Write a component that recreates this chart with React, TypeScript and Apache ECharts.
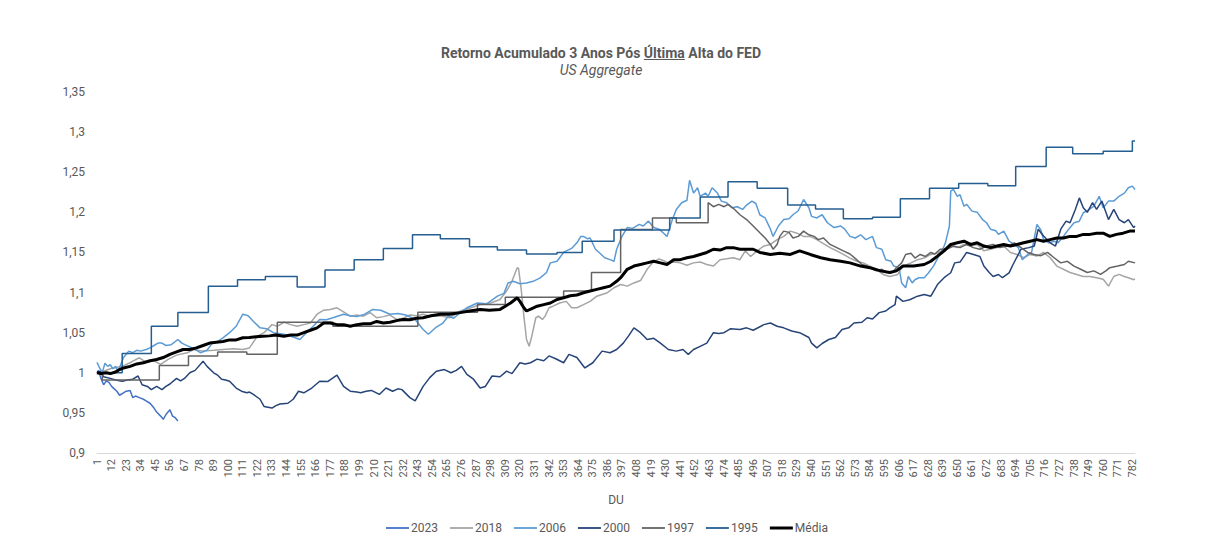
import React, { useEffect, useRef } from "react";
import * as echarts from "echarts";

const days: string[] = Array.from({ length: 784 }, (_, i) => String(i + 1));
const yTicks = { min: 0.9, max: 1.35, step: 0.05 };

const s2023: [number, number][] = [
  [1, 1.0], [2, 1.003], [4, 0.993], [6, 0.985], [8, 0.99], [10, 0.988], [12, 0.983], [14, 0.98], [16, 0.977],
  [18, 0.972], [21, 0.975], [23, 0.977], [26, 0.978], [28, 0.969], [30, 0.971], [33, 0.969], [36, 0.967],
  [38, 0.965], [41, 0.962], [44, 0.956], [46, 0.951], [49, 0.946], [51, 0.942], [53, 0.948], [56, 0.954],
  [58, 0.946], [60, 0.944], [62, 0.94],
];

const s2018: [number, number][] = [
  [1, 1.0], [6, 1.002], [11, 1.005], [20, 1.008], [26, 1.0125], [28, 1.0145], [33, 1.0187], [38, 1.013], [44, 1.015],
  [49, 1.0104], [55, 1.017], [61, 1.022], [69, 1.025], [74, 1.029], [81, 1.027], [89, 1.028], [96, 1.029], [104, 1.03],
  [111, 1.029], [116, 1.031], [122, 1.0456], [127, 1.05], [133, 1.06], [137, 1.058], [142, 1.063], [147, 1.06],
  [152, 1.058], [157, 1.06], [162, 1.062], [167, 1.073], [172, 1.078], [177, 1.079], [182, 1.081], [187, 1.076],
  [192, 1.0706], [197, 1.072], [202, 1.0706], [207, 1.075], [212, 1.0686], [217, 1.07], [222, 1.072], [227, 1.0665],
  [232, 1.068], [237, 1.072], [242, 1.071], [247, 1.073], [252, 1.0706], [260, 1.071], [267, 1.0686], [275, 1.077],
  [283, 1.081], [290, 1.085], [298, 1.087], [305, 1.0914], [310, 1.102], [314, 1.114], [318, 1.131], [319, 1.13],
  [321, 1.104], [323, 1.0706], [325, 1.0415], [327, 1.033], [329, 1.0456], [332, 1.0686], [334, 1.0706], [337, 1.0665],
  [339, 1.0706], [342, 1.081], [345, 1.083], [350, 1.087], [355, 1.089], [359, 1.081], [363, 1.081], [368, 1.085],
  [373, 1.089], [378, 1.0955], [386, 1.0998], [391, 1.106], [396, 1.11], [401, 1.108], [406, 1.112], [411, 1.115],
  [416, 1.129], [420, 1.137], [425, 1.142], [428, 1.14], [432, 1.137], [436, 1.138], [441, 1.137], [446, 1.134],
  [451, 1.137], [456, 1.138], [461, 1.135], [466, 1.133], [471, 1.141], [476, 1.142], [481, 1.1434], [486, 1.141],
  [490, 1.152], [494, 1.145], [499, 1.152], [504, 1.158], [509, 1.16], [514, 1.166], [519, 1.17], [524, 1.1766],
  [529, 1.174], [534, 1.17], [539, 1.17], [544, 1.166], [549, 1.161], [554, 1.156], [559, 1.152], [564, 1.1475],
  [569, 1.143], [574, 1.139], [579, 1.137], [584, 1.133], [589, 1.129], [594, 1.1226], [599, 1.12], [605, 1.1226],
  [609, 1.133], [615, 1.137], [620, 1.141], [625, 1.143], [630, 1.1475], [635, 1.149], [640, 1.154], [645, 1.158],
  [650, 1.156], [655, 1.16], [660, 1.158], [665, 1.16], [670, 1.152], [675, 1.154], [680, 1.156], [685, 1.158],
  [690, 1.15], [695, 1.1475], [700, 1.1434], [705, 1.1475], [710, 1.1455], [715, 1.15], [720, 1.1434], [725, 1.133],
  [730, 1.129], [735, 1.125], [740, 1.1226], [745, 1.12], [750, 1.12], [755, 1.1185], [760, 1.1165], [764, 1.108],
  [768, 1.12], [772, 1.1226], [776, 1.12], [779, 1.1185], [783, 1.116], [784, 1.117],
];

const s2006: [number, number][] = [
  [1, 1.013], [3, 1.006], [5, 1.0], [7, 1.012], [9, 1.008], [11, 1.01], [13, 1.005], [15, 1.008], [17, 1.002],
  [21, 1.019], [25, 1.027], [28, 1.025], [31, 1.028], [34, 1.027], [38, 1.029], [41, 1.031], [44, 1.034], [47, 1.037],
  [50, 1.037], [53, 1.034], [57, 1.035], [62, 1.0415], [65, 1.037], [70, 1.033], [74, 1.03], [79, 1.025], [84, 1.028],
  [88, 1.037], [92, 1.039], [96, 1.0436], [101, 1.05], [106, 1.058], [111, 1.073], [115, 1.071], [119, 1.064],
  [124, 1.056], [129, 1.055], [134, 1.05], [138, 1.049], [142, 1.048], [146, 1.046], [150, 1.044], [154, 1.0415],
  [159, 1.05], [164, 1.058], [169, 1.0665], [174, 1.066], [179, 1.0686], [187, 1.073], [192, 1.071], [197, 1.07],
  [203, 1.073], [209, 1.079], [215, 1.078], [222, 1.073], [228, 1.074], [234, 1.072], [241, 1.0665], [247, 1.054],
  [251, 1.048], [257, 1.057], [262, 1.062], [266, 1.0706], [270, 1.068], [275, 1.075], [280, 1.081], [288, 1.087],
  [295, 1.086], [303, 1.0955], [308, 1.099], [311, 1.112], [315, 1.114], [320, 1.111], [325, 1.112], [330, 1.114],
  [335, 1.118], [340, 1.1247], [343, 1.137], [348, 1.139], [353, 1.15], [355, 1.152], [359, 1.155], [363, 1.162],
  [366, 1.17], [368, 1.17], [371, 1.167], [373, 1.168], [377, 1.154], [381, 1.148], [384, 1.1434], [388, 1.141],
  [391, 1.139], [393, 1.154], [397, 1.17], [401, 1.181], [405, 1.18], [410, 1.185], [413, 1.183], [417, 1.189],
  [421, 1.181], [425, 1.179], [428, 1.1746], [431, 1.17], [435, 1.191], [438, 1.2036], [442, 1.212], [446, 1.215],
  [448, 1.24], [451, 1.224], [454, 1.2307], [456, 1.22], [460, 1.224], [462, 1.22], [465, 1.2307], [469, 1.224],
  [472, 1.214], [476, 1.212], [480, 1.2057], [484, 1.207], [488, 1.2036], [491, 1.209], [495, 1.214], [498, 1.211],
  [501, 1.197], [505, 1.193], [509, 1.179], [511, 1.17], [515, 1.183], [519, 1.191], [523, 1.192], [526, 1.197],
  [530, 1.202], [534, 1.216], [538, 1.2057], [540, 1.195], [544, 1.193], [548, 1.197], [552, 1.187], [557, 1.181],
  [562, 1.183], [565, 1.179], [569, 1.17], [573, 1.168], [577, 1.172], [581, 1.166], [586, 1.17], [589, 1.156],
  [593, 1.154], [596, 1.141], [600, 1.139], [602, 1.133], [606, 1.131], [608, 1.112], [611, 1.106], [613, 1.12],
  [616, 1.112], [618, 1.116], [621, 1.1185], [625, 1.1185], [628, 1.124], [632, 1.133], [636, 1.1454], [639, 1.154],
  [641, 1.162], [644, 1.183], [645, 1.2264], [647, 1.2286], [650, 1.22], [652, 1.222], [655, 1.2077], [657, 1.21],
  [661, 1.2015], [665, 1.2], [669, 1.191], [672, 1.187], [675, 1.179], [679, 1.177], [681, 1.1725], [685, 1.1766],
  [689, 1.164], [693, 1.16], [696, 1.156], [699, 1.141], [703, 1.1475], [706, 1.15], [710, 1.185], [713, 1.178],
  [715, 1.166], [719, 1.162], [723, 1.164], [726, 1.162], [730, 1.17], [734, 1.179], [738, 1.187], [742, 1.189],
  [745, 1.1995], [749, 1.203], [753, 1.2077], [757, 1.22], [760, 1.2057], [764, 1.214], [768, 1.214], [772, 1.22],
  [776, 1.224], [779, 1.2307], [782, 1.2327], [784, 1.2285],
];

const s2000: [number, number][] = [
  [1, 1.0], [3, 1.002], [6, 0.995], [11, 0.993], [15, 0.991], [20, 0.9895], [24, 0.991], [28, 0.992], [32, 0.996],
  [35, 0.985], [39, 0.983], [42, 0.979], [46, 0.983], [50, 0.979], [53, 0.983], [56, 0.986], [61, 0.993], [64, 0.99],
  [67, 0.993], [71, 1.0], [75, 1.003], [81, 1.0145], [84, 1.008], [89, 1.0], [92, 0.997], [95, 0.992], [98, 0.991],
  [101, 0.9895], [106, 0.981], [110, 0.977], [114, 0.975], [116, 0.976], [119, 0.973], [124, 0.967], [127, 0.958],
  [130, 0.957], [133, 0.956], [136, 0.959], [139, 0.961], [145, 0.962], [149, 0.967], [153, 0.977], [157, 0.975],
  [163, 0.981], [169, 0.9895], [175, 0.989], [182, 0.997], [187, 0.983], [192, 0.977], [197, 0.976], [200, 0.975],
  [204, 0.977], [208, 0.978], [214, 0.973], [219, 0.981], [224, 0.977], [228, 0.98], [231, 0.979], [237, 0.969],
  [241, 0.965], [247, 0.983], [252, 0.994], [257, 1.002], [263, 1.004], [268, 1.0], [272, 1.003], [276, 1.008],
  [280, 0.998], [285, 0.992], [290, 0.981], [294, 0.983], [299, 0.996], [305, 0.995], [310, 1.002], [314, 0.999],
  [320, 1.0125], [324, 1.011], [328, 1.0125], [333, 1.017], [338, 1.015], [342, 1.021], [347, 1.0175], [353, 1.0125],
  [357, 1.023], [363, 1.019], [369, 1.006], [375, 1.0125], [382, 1.027], [388, 1.025], [393, 1.029], [398, 1.037],
  [402, 1.046], [406, 1.056], [411, 1.05], [416, 1.0415], [421, 1.043], [426, 1.037], [432, 1.029], [438, 1.027],
  [443, 1.029], [447, 1.023], [451, 1.029], [456, 1.033], [461, 1.037], [466, 1.05], [470, 1.049], [474, 1.05],
  [479, 1.055], [486, 1.054], [491, 1.056], [496, 1.053], [504, 1.06], [509, 1.062], [514, 1.058], [519, 1.056],
  [525, 1.052], [531, 1.05], [538, 1.044], [540, 1.037], [544, 1.031], [548, 1.0365], [553, 1.0415], [558, 1.044],
  [563, 1.054], [568, 1.056], [572, 1.062], [578, 1.063], [582, 1.0686], [586, 1.067], [591, 1.075], [596, 1.077],
  [599, 1.081], [603, 1.085], [604, 1.0955], [609, 1.089], [614, 1.091], [620, 1.0955], [625, 1.0975], [630, 1.0955],
  [635, 1.11], [640, 1.1185], [645, 1.1247], [648, 1.137], [652, 1.138], [657, 1.15], [661, 1.148], [667, 1.145],
  [670, 1.133], [674, 1.125], [677, 1.12], [681, 1.1225], [684, 1.1185], [689, 1.1245], [692, 1.135], [698, 1.154],
  [704, 1.156], [708, 1.158], [711, 1.179], [715, 1.1705], [720, 1.162], [724, 1.158], [728, 1.179], [732, 1.189],
  [735, 1.187], [739, 1.2036], [742, 1.218], [745, 1.2057], [748, 1.2], [752, 1.212], [755, 1.2036], [759, 1.214],
  [764, 1.191], [768, 1.2036], [772, 1.191], [776, 1.187], [779, 1.191], [783, 1.181], [784, 1.183],
];

const steps1997: [number, number][] = [
  [1, 1.0], [5, 0.991], [48, 1.009], [70, 1.021], [92, 1.026], [114, 1.023], [137, 1.063], [179, 1.058],
  [243, 1.0756], [288, 1.085], [309, 1.094], [353, 1.102], [374, 1.125], [396, 1.1787], [420, 1.193],
  [438, 1.187], [462, 1.212],
];
const daily1997: [number, number][] = [
  [466, 1.207], [470, 1.21], [474, 1.207], [477, 1.21], [481, 1.205], [486, 1.197], [491, 1.191], [496, 1.183],
  [501, 1.1746], [505, 1.168], [509, 1.16], [511, 1.154], [514, 1.16], [516, 1.17], [519, 1.1766], [523, 1.175],
  [526, 1.168], [530, 1.17], [534, 1.1766], [538, 1.172], [542, 1.17], [545, 1.166], [549, 1.168], [554, 1.16],
  [559, 1.156], [564, 1.152], [569, 1.148], [574, 1.141], [578, 1.135], [582, 1.133], [586, 1.129], [589, 1.127],
  [593, 1.129], [597, 1.125], [601, 1.125], [604, 1.131], [608, 1.137], [611, 1.1475], [615, 1.149], [618, 1.143],
  [622, 1.1475], [626, 1.145], [630, 1.15], [633, 1.148], [637, 1.154], [642, 1.154], [647, 1.158], [652, 1.156],
  [657, 1.16], [662, 1.156], [667, 1.154], [672, 1.158], [677, 1.16], [682, 1.156], [688, 1.158], [693, 1.162],
  [698, 1.156], [703, 1.15], [708, 1.1475], [713, 1.146], [718, 1.15], [723, 1.1434], [728, 1.137], [733, 1.139],
  [738, 1.133], [743, 1.129], [748, 1.125], [753, 1.127], [758, 1.1226], [762, 1.127], [765, 1.131], [771, 1.133],
  [776, 1.135], [779, 1.139], [784, 1.137],
];

const steps1995: [number, number][] = [
  [1, 1.0], [20, 1.024], [42, 1.058], [62, 1.075], [85, 1.108], [107, 1.116], [128, 1.12], [152, 1.107],
  [173, 1.128], [195, 1.141], [217, 1.155], [239, 1.172], [260, 1.167], [282, 1.157], [303, 1.153], [325, 1.148],
  [348, 1.15], [367, 1.164], [391, 1.178], [433, 1.193], [456, 1.219], [477, 1.238], [499, 1.23], [522, 1.209],
  [543, 1.204], [564, 1.192], [586, 1.194], [607, 1.217], [629, 1.23], [651, 1.236], [673, 1.233], [694, 1.257],
  [717, 1.281], [737, 1.273], [760, 1.276], [782, 1.289], [784, 1.289],
];

const sMedia: [number, number][] = [
  [1, 1.0], [4, 0.999], [8, 1.0], [11, 0.999], [15, 1.001], [18, 1.004], [21, 1.006], [26, 1.008], [31, 1.011],
  [36, 1.0125], [41, 1.015], [46, 1.0166], [51, 1.019], [56, 1.023], [61, 1.026], [66, 1.029], [71, 1.029],
  [76, 1.031], [81, 1.034], [86, 1.037], [91, 1.038], [96, 1.039], [101, 1.041], [106, 1.041], [111, 1.0436],
  [116, 1.044], [121, 1.045], [126, 1.0456], [131, 1.046], [136, 1.047], [142, 1.0456], [147, 1.047], [152, 1.047],
  [157, 1.05], [162, 1.053], [167, 1.056], [172, 1.062], [177, 1.062], [182, 1.06], [187, 1.06], [192, 1.058],
  [197, 1.06], [202, 1.061], [207, 1.061], [212, 1.064], [217, 1.062], [222, 1.063], [227, 1.065], [232, 1.0665],
  [237, 1.066], [242, 1.068], [247, 1.0686], [253, 1.071], [260, 1.073], [267, 1.073], [275, 1.075], [282, 1.077],
  [290, 1.079], [297, 1.078], [305, 1.079], [309, 1.083], [313, 1.087], [318, 1.0935], [320, 1.089], [323, 1.081],
  [325, 1.077], [329, 1.08], [333, 1.083], [338, 1.085], [343, 1.087], [348, 1.0914], [353, 1.0935], [358, 1.096],
  [363, 1.097], [368, 1.0998], [373, 1.102], [378, 1.104], [383, 1.106], [388, 1.108], [393, 1.114], [396, 1.1185],
  [401, 1.129], [406, 1.133], [411, 1.135], [416, 1.137], [421, 1.139], [426, 1.137], [431, 1.135], [436, 1.141],
  [441, 1.141], [446, 1.1434], [451, 1.145], [456, 1.1475], [461, 1.15], [466, 1.154], [471, 1.153], [476, 1.156],
  [481, 1.156], [486, 1.154], [491, 1.154], [496, 1.154], [501, 1.15], [509, 1.1475], [516, 1.149], [524, 1.1475],
  [531, 1.152], [539, 1.1475], [547, 1.1434], [554, 1.141], [562, 1.139], [569, 1.137], [577, 1.133], [584, 1.131],
  [592, 1.127], [599, 1.125], [604, 1.127], [609, 1.133], [617, 1.133], [625, 1.135], [630, 1.139], [635, 1.1454],
  [640, 1.152], [645, 1.16], [650, 1.162], [655, 1.164], [660, 1.16], [665, 1.162], [670, 1.158], [675, 1.156],
  [680, 1.158], [685, 1.16], [690, 1.158], [695, 1.16], [700, 1.162], [705, 1.164], [710, 1.166], [715, 1.164],
  [720, 1.166], [725, 1.168], [730, 1.168], [735, 1.17], [740, 1.17], [745, 1.1725], [750, 1.1725], [755, 1.174],
  [760, 1.174], [765, 1.17], [770, 1.1725], [775, 1.174], [780, 1.1766], [784, 1.1766],
];

const legendNames = ["2023", "2018", "2006", "2000", "1997", "1995", "Média"];

const TITLE = "Retorno Acumulado 3 Anos Pós Última Alta do FED";
const TITLE_PRE = "Retorno Acumulado 3 Anos Pós ";
const TITLE_UNDER = "Última";
const SUBTITLE = "US Aggregate";

const toIdx = (pts: [number, number][]) => pts.map(([d, v]) => [d - 1, v]);

function stepsThenDaily(steps: [number, number][], daily: [number, number][]) {
  const out: [number, number][] = [];
  for (let i = 0; i < steps.length - 1; i++) {
    out.push([steps[i][0], steps[i][1]]);
    out.push([steps[i + 1][0], steps[i][1]]);
  }
  out.push(steps[steps.length - 1]);
  return toIdx(out.concat(daily));
}

const THIN_ICON = "path://M0,0 M0,12 M0,5.1 L23,5.1 L23,6.9 L0,6.9 Z";
const THICK_ICON = "path://M0,0 M0,12 M0,4.5 L23,4.5 L23,7.5 L0,7.5 Z";

export default function App() {
  const ref = useRef<HTMLDivElement>(null);
  useEffect(() => {
    document.body.style.margin = "0";
    if (!ref.current) return;
    const chart = echarts.init(ref.current, undefined, { renderer: "svg" });

    const titleFont = "bold 14px Roboto";
    const cv = document.createElement("canvas").getContext("2d");
    let ux1 = 644, ux2 = 685;
    const tx = 601;
    if (cv) {
      cv.font = titleFont;
      const full = cv.measureText(TITLE).width;
      const pre = cv.measureText(TITLE_PRE).width;
      const u = cv.measureText(TITLE_UNDER).width;
      ux1 = tx - full / 2 + pre;
      ux2 = ux1 + u;
    }

    const line = (name: string, data: any[], color: string, width: number, extra: any = {}) => ({
      name,
      type: "line",
      data,
      symbol: "none",
      showSymbol: false,
      lineStyle: { color, width },
      itemStyle: { color },
      emphasis: { disabled: true },
      z: 2,
      ...extra,
    });

    chart.setOption({
      animation: false,
      textStyle: { fontFamily: "Roboto" },
      grid: { left: 97, right: 83, top: 92, bottom: 105, containLabel: false },
      graphic: [
        {
          type: "text",
          x: tx,
          y: 53,
          style: { text: TITLE, font: titleFont, fill: "#595959", textAlign: "center", textVerticalAlign: "middle" },
        },
        {
          type: "line",
          shape: { x1: ux1, y1: 59.5, x2: ux2, y2: 59.5 },
          style: { stroke: "#595959", lineWidth: 1 },
        },
        {
          type: "text",
          x: tx,
          y: 70,
          style: { text: SUBTITLE, font: "italic 14px Roboto", fill: "#595959", textAlign: "center", textVerticalAlign: "middle" },
        },
      ],
      legend: {
        data: legendNames.map((n) => ({ name: n, icon: n === "Média" ? THICK_ICON : THIN_ICON })),
        left: 381,
        top: 517,
        itemWidth: 23,
        itemHeight: 12,
        itemGap: 12,
        itemStyle: { borderWidth: 0 },
        textStyle: { color: "#595959", fontSize: 12, fontFamily: "Roboto", padding: [0, 0, 0, -3] },
      },
      xAxis: {
        type: "category",
        data: days,
        boundaryGap: false,
        name: "DU",
        nameLocation: "middle",
        nameGap: 41,
        nameTextStyle: { color: "#595959", fontSize: 12, fontFamily: "Roboto" },
        axisLine: { lineStyle: { color: "#d9d9d9", width: 1 } },
        axisTick: { show: false },
        axisLabel: { interval: 10, rotate: 90, fontSize: 11, color: "#595959", margin: 6, fontFamily: "Roboto" },
        splitLine: { show: false },
      },
      yAxis: {
        type: "value",
        min: yTicks.min,
        max: yTicks.max,
        interval: yTicks.step,
        axisLine: { show: false },
        axisTick: { show: false },
        splitLine: { show: false },
        axisLabel: {
          color: "#595959",
          fontSize: 12,
          margin: 12,
          fontFamily: "Roboto",
          formatter: (v: number) => String(Math.round(v * 100) / 100).replace(".", ","),
        },
      },
      series: [
        line("2023", toIdx(s2023), "#4472C4", 1.5),
        line("2018", toIdx(s2018), "#A5A5A5", 1.5),
        line("2006", toIdx(s2006), "#5B9BD5", 1.5),
        line("2000", toIdx(s2000), "#264478", 1.5),
        line("1997", stepsThenDaily(steps1997, daily1997), "#636363", 1.5),
        line("1995", toIdx(steps1995), "#255E91", 1.5, { step: "end" }),
        line("Média", toIdx(sMedia), "#000000", 3, { z: 3 }),
      ],
    });
    return () => chart.dispose();
  }, []);
  return <div ref={ref} style={{ width: 1218, height: 558 }} />;
}
